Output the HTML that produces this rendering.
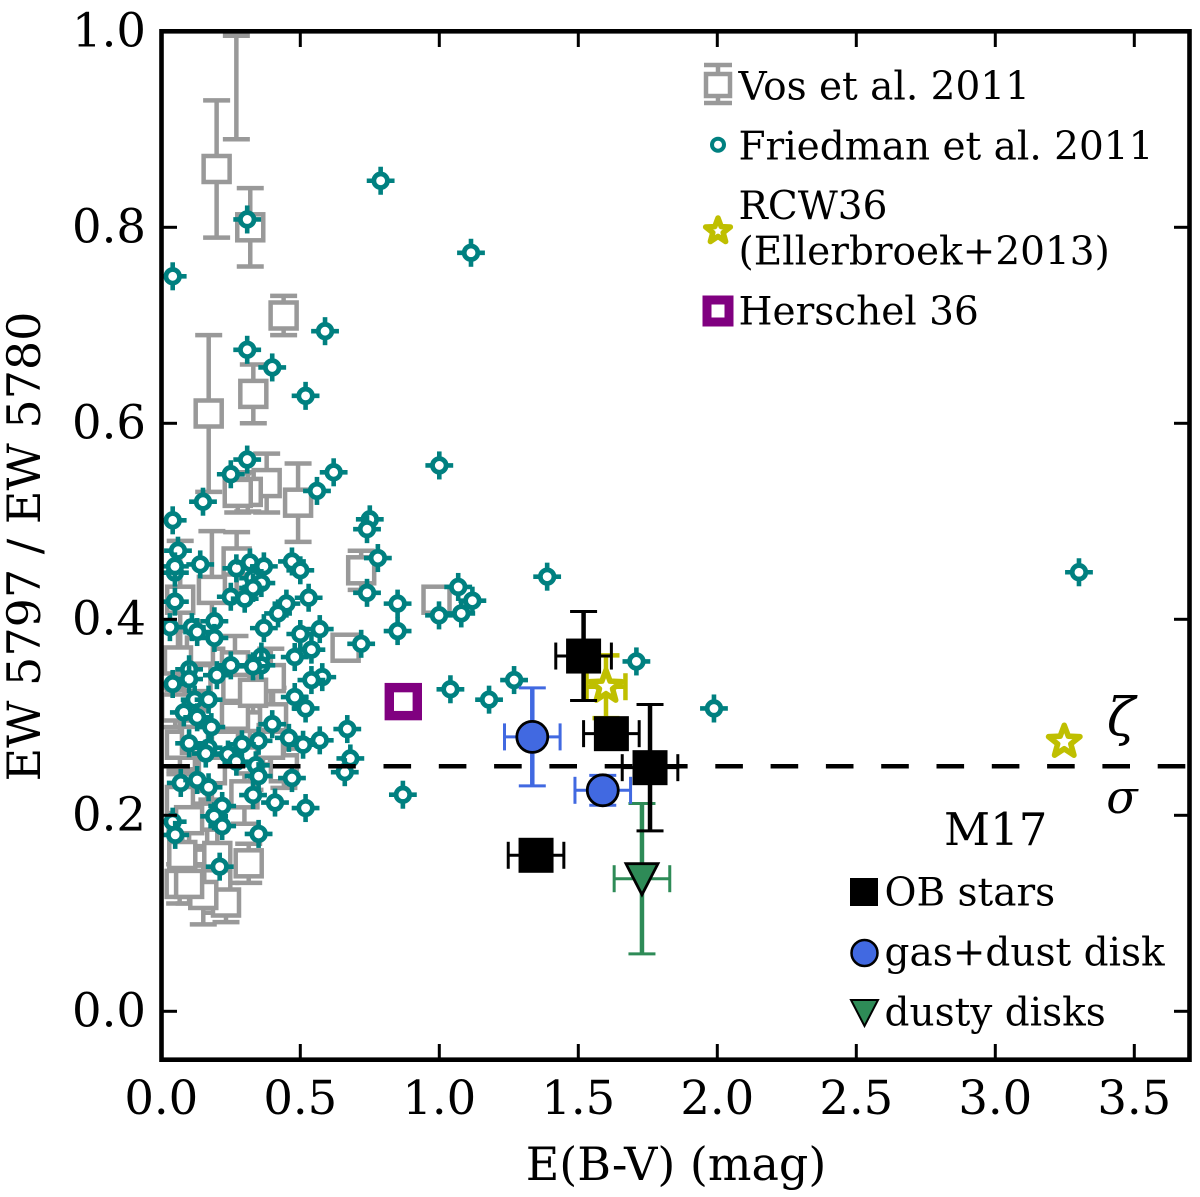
<!DOCTYPE html>
<html>
<head>
<meta charset="utf-8">
<style>
html,body{margin:0;padding:0;background:#fff;}
svg{display:block;}
text{font-family:"DejaVu Serif","Liberation Serif",serif;fill:#000;}
</style>
</head>
<body>
<svg id="chart" xmlns="http://www.w3.org/2000/svg" width="1200" height="1197" viewBox="0 0 1200 1197">
<defs><clipPath id="plot-clip"><rect x="161" y="31" width="1029" height="1029"/></clipPath></defs>
<g id="gVos" clip-path="url(#plot-clip)"></g>
<g id="gFried" clip-path="url(#plot-clip)"></g>
<g id="gRef"></g>
<g id="gHer"></g>
<g id="gRcw"></g>
<g id="gGreen"></g>
<g id="gOB"></g>
<g id="gBlue"></g>
<g id="gAxes"></g>

<text x="0" y="0" transform="translate(40,546.5) rotate(-90)" text-anchor="middle" font-size="46">EW 5797 / EW 5780</text>
<text x="676" y="1180" text-anchor="middle" font-size="46">E(B-V) (mag)</text>

<g>
  <g>
    <path d="M718 65V103M704 65H732M704 103H732" stroke="#999" stroke-width="4.5" fill="none"/>
    <rect x="706" y="74" width="24" height="22" fill="#fff" stroke="#999" stroke-width="4.5"/>
    <text x="738.5" y="99.5" font-size="39">Vos et al. 2011</text>
  </g>
  <g>
    <circle cx="718" cy="144.7" r="6" fill="#fff" stroke="#008080" stroke-width="4"/>
    <text x="738.5" y="159.5" font-size="39">Friedman et al. 2011</text>
  </g>
  <g>
    <polygon id="legendStar" fill="#fff" stroke="#bfbf00" stroke-width="5.5" stroke-linejoin="round"/>
    <text x="738.5" y="219" font-size="39">RCW36</text>
    <text x="738.5" y="264.5" font-size="39">(Ellerbroek+2013)</text>
  </g>
  <g>
    <rect x="707" y="300" width="22" height="22" fill="#fff" stroke="#800080" stroke-width="9"/>
    <text x="738.5" y="324.5" font-size="39">Herschel 36</text>
  </g>
</g>

<g>
  <text x="944" y="845" font-size="45">M17</text>
  <g>
    <rect x="850" y="878" width="28" height="28" fill="#000"/>
    <text x="884.5" y="905.5" font-size="39">OB stars</text>
  </g>
  <g>
    <circle cx="864.5" cy="953" r="13" fill="#4169e1" stroke="#000" stroke-width="2.5"/>
    <text x="884.5" y="965.5" font-size="39">gas+dust disk</text>
  </g>
  <g>
    <polygon points="851,1000 878,1000 864.5,1026" fill="#2e8b57" stroke="#000" stroke-width="2"/>
    <text x="884.5" y="1025.5" font-size="39">dusty disks</text>
  </g>
</g>

<text x="1121" y="735" text-anchor="middle" font-size="52" font-style="italic">ζ</text>
<text x="1122" y="813" text-anchor="middle" font-size="46" font-style="italic">σ</text>

<script>
var xTicks = ['0.0','0.5','1.0','1.5','2.0','2.5','3.0','3.5'];
var yTicks = ['0.0','0.2','0.4','0.6','0.8','1.0'];
var referenceRatio = 0.25;

var friedmanX = [.789,1.114,.309,.041,.589,.309,.399,.519,.309,.250,.620,.560,1.000,.150,.041,.750,.740,.060,.140,.270,.319,.369,.470,.500,.779,.049,.049,.330,.360,.330,.250,.300,.530,.049,.740,.850,1.068,1.119,.999,1.079,1.388,3.301,.450,.420,.191,.110,.129,.031,.191,.369,.500,.570,.850,.719,.540,.480,.360,.360,.330,.250,.200,.100,.100,.041,.579,.540,1.040,1.179,1.269,1.709,1.988,.480,.519,.120,.170,.081,.129,.180,.399,.669,.570,.459,.510,.350,.290,.240,.170,.100,.160,.680,.660,.340,.270,.350,.470,.869,.070,.129,.170,.330,.409,.519,.219,.190,.219,.041,.050,.350,.210];
var friedmanY = [.8475,.774,.808,.750,.694,.675,.657,.628,.563,.548,.550,.531,.557,.520,.501,.502,.492,.470,.456,.452,.458,.454,.459,.450,.4625,.4476,.454,.442,.437,.432,.423,.421,.422,.418,.427,.416,.433,.419,.404,.406,.4435,.448,.416,.406,.398,.392,.387,.392,.381,.391,.385,.390,.388,.375,.369,.3615,.362,.353,.352,.353,.343,.349,.339,.334,.341,.338,.3286,.318,.338,.357,.309,.3207,.309,.318,.318,.305,.300,.290,.293,.288,.2765,.279,.272,.276,.2725,.262,.269,.2735,.263,.258,.244,.251,.2547,.240,.238,.221,.233,.236,.2286,.2207,.213,.2074,.2095,.199,.189,.1935,.180,.181,.1476];
var friedmanXErr = 0.05;
var friedmanYErr = 0.0143;

var vosX = [.199,.320,.440,.1705,.331,.379,.311,.275,.492,.271,.182,.068,.719,.99,.663,.265,.394,.402,.441,.299,.165,.0755,.2014,.3144,.066,.2014,.2327,.151,.139,.06,.067,.067,.182,.265,.319,.121,.391,.229,.05,.10,.13,.27,.33,.10];
var vosY = [.8595,.800,.710,.61,.630,.539,.530,.529,.519,.459,.43,.42,.45,.42,.371,.3016,.34,.30,.248,.2214,.1986,.1595,.1585,.151,.130,.1306,.111,.1187,.368,.358,.272,.2156,.246,.353,.256,.277,.272,.272,.31,.195,.34,.33,.325,.13];
var vosYErr = [.07,.04,.02,.08,.03,.03,.02,.02,.04,.03,.06,.06,.02,.01,.01,.03,.03,.03,.02,.03,.03,.03,.03,.02,.02,.03,.02,.03,.03,.03,.03,.03,.03,.03,.03,.03,.02,.02,.02,.03,.03,.02,.02,.02];
var vosClippedX = [.27];
var vosClippedLow = [.8898];
var vosClippedHigh = [.9955];

var herschelX = [.8705];
var herschelY = [.316];

var rcwX = [1.5996,3.248];
var rcwY = [.3312,.275];
var rcwXErr = [.07,0];
var rcwYErr = [.032,0];

var obX = [1.519,1.619,1.758,1.348];
var obY = [.3625,.2833,.2486,.1592];
var obXErr = [.1,.1,.1,.1];
var obYErr = [.0454,.01,.0645,.01];

var gasX = [1.3345,1.588];
var gasY = [.280,.2255];
var gasXErr = [.1,.1];
var gasYErr = [.05,.0153];

var dustyX = [1.729];
var dustyY = [.1353];
var dustyXErr = [.1];
var dustyYErr = [.0767];

var NS = 'http://www.w3.org/2000/svg';
function sx(v){ return 161.3 + v * 278; }
function sy(v){ return 1011.3 - v * 980; }

function mk(parent, tag, attrs, name){
  var el = document.createElementNS(NS, tag);
  for (var k in attrs) { el.setAttribute(k, attrs[k]); }
  
  
  parent.appendChild(el);
  return el;
}
function seg(parent, x1, y1, x2, y2, color, w, name){
  return mk(parent, 'line', {x1:x1, y1:y1, x2:x2, y2:y2, stroke:color, 'stroke-width':w}, name);
}
function errY(parent, x, y, e, color, w, cap, capW){
  var px = sx(x), top = sy(y + e), bot = sy(y - e);
  seg(parent, px, top, px, bot, color, w, 'y-error-bar');
  seg(parent, px - cap/2, top, px + cap/2, top, color, capW, 'y-error-cap');
  seg(parent, px - cap/2, bot, px + cap/2, bot, color, capW, 'y-error-cap');
}
function errX(parent, x, y, e, color, w, cap, capW){
  var py = sy(y), l = sx(x - e), r = sx(x + e);
  seg(parent, l, py, r, py, color, w, 'x-error-bar');
  seg(parent, l, py - cap/2, l, py + cap/2, color, capW, 'x-error-cap');
  seg(parent, r, py - cap/2, r, py + cap/2, color, capW, 'x-error-cap');
}
function starPoints(cx, cy, R){
  var pts = [];
  for (var i = 0; i < 10; i++) {
    var r = i % 2 ? R * 0.42 : R;
    var a = -Math.PI / 2 + i * Math.PI / 5;
    pts.push((cx + r * Math.cos(a)).toFixed(2) + ',' + (cy + r * Math.sin(a)).toFixed(2));
  }
  return pts.join(' ');
}

document.getElementById('legendStar').setAttribute('points', starPoints(718, 231, 13));

var gVos = document.getElementById('gVos');
vosX.forEach(function(x, i){
  errY(gVos, x, vosY[i], vosYErr[i], '#999', 4.5, 27, 4.5);
});
vosX.forEach(function(x, i){
  mk(gVos, 'rect', {x:sx(x)-13, y:sy(vosY[i])-13, width:26, height:26, fill:'#fff', stroke:'#999', 'stroke-width':4.5}, 'vos-point');
});
vosClippedX.forEach(function(x, i){
  var mid = (vosClippedLow[i] + vosClippedHigh[i]) / 2;
  errY(gVos, x, mid, (vosClippedHigh[i] - vosClippedLow[i]) / 2, '#999', 4.5, 27, 4.5);
});

var gFried = document.getElementById('gFried');
friedmanX.forEach(function(x, i){
  var y = friedmanY[i];
  seg(gFried, sx(x - friedmanXErr), sy(y), sx(x + friedmanXErr), sy(y), '#008080', 4.6, 'friedman-x-error');
  seg(gFried, sx(x), sy(y + friedmanYErr), sx(x), sy(y - friedmanYErr), '#008080', 4.6, 'friedman-y-error');
  mk(gFried, 'circle', {cx:sx(x), cy:sy(y), r:6.8, fill:'#fff', stroke:'#008080', 'stroke-width':4.8}, 'friedman-point');
});

var gRef = document.getElementById('gRef');
mk(gRef, 'line', {x1:sx(0), y1:sy(referenceRatio), x2:sx(3.7), y2:sy(referenceRatio), stroke:'#000', 'stroke-width':4.5, 'stroke-dasharray':'27.6 27.7', 'stroke-dashoffset':'-1'}, 'reference-dashed-line');

var gHer = document.getElementById('gHer');
herschelX.forEach(function(x, i){
  mk(gHer, 'rect', {x:sx(x)-14, y:sy(herschelY[i])-14, width:28, height:28, fill:'#fff', stroke:'#800080', 'stroke-width':9.4}, 'herschel-point');
});

var gRcw = document.getElementById('gRcw');
rcwX.forEach(function(x, i){
  if (rcwXErr[i] > 0) {
    errX(gRcw, x, rcwY[i], rcwXErr[i], '#bfbf00', 4.5, 27, 4.5);
    errY(gRcw, x, rcwY[i], rcwYErr[i], '#bfbf00', 4.5, 27, 4.5);
  }
  mk(gRcw, 'polygon', {points:starPoints(sx(x), sy(rcwY[i]), 16.5), fill:'#fff', stroke:'#bfbf00', 'stroke-width':5.6, 'stroke-linejoin':'round'}, 'rcw36-point');
});

var gGreen = document.getElementById('gGreen');
dustyX.forEach(function(x, i){
  errX(gGreen, x, dustyY[i], dustyXErr[i], '#2e8b57', 3, 27, 3);
  errY(gGreen, x, dustyY[i], dustyYErr[i], '#2e8b57', 4.5, 27, 3);
  var px = sx(x), py = sy(dustyY[i]);
  mk(gGreen, 'polygon', {points:(px-16)+','+(py-15)+' '+(px+16)+','+(py-15)+' '+px+','+(py+16), fill:'#2e8b57', stroke:'#000', 'stroke-width':2.8}, 'dusty-disk-point');
});

var gOB = document.getElementById('gOB');
obX.forEach(function(x, i){
  errX(gOB, x, obY[i], obXErr[i], '#000', 3, 27, 3);
  errY(gOB, x, obY[i], obYErr[i], '#000', 4.5, 27, 3);
});
obX.forEach(function(x, i){
  mk(gOB, 'rect', {x:sx(x)-17.5, y:sy(obY[i])-17.5, width:35, height:35, fill:'#000'}, 'ob-star-point');
});

var gBlue = document.getElementById('gBlue');
gasX.forEach(function(x, i){
  errX(gBlue, x, gasY[i], gasXErr[i], '#4169e1', 3, 27, 3);
  errY(gBlue, x, gasY[i], gasYErr[i], '#4169e1', 4.5, 27, 3);
  mk(gBlue, 'circle', {cx:sx(x), cy:sy(gasY[i]), r:15.5, fill:'#4169e1', stroke:'#000', 'stroke-width':2.8}, 'gas-dust-disk-point');
});

var gAxes = document.getElementById('gAxes');
xTicks.forEach(function(t){
  var v = parseFloat(t), px = sx(v);
  seg(gAxes, px, 1060, px, 1044, '#000', 3, 'x-tick-bottom');
  seg(gAxes, px, 31, px, 47, '#000', 3, 'x-tick-top');
  var lab = mk(gAxes, 'text', {x:px, y:1114, 'text-anchor':'middle', 'font-size':46.5}, 'x-tick-label');
  lab.textContent = t;
});
yTicks.forEach(function(t){
  var v = parseFloat(t), py = sy(v);
  seg(gAxes, 161, py, 177, py, '#000', 3, 'y-tick-left');
  seg(gAxes, 1190, py, 1174, py, '#000', 3, 'y-tick-right');
  var lab = mk(gAxes, 'text', {x:146, y:py + 15, 'text-anchor':'end', 'font-size':46.5}, 'y-tick-label');
  lab.textContent = t;
});
mk(gAxes, 'rect', {x:161.5, y:31.3, width:1028, height:1028.4, fill:'none', stroke:'#000', 'stroke-width':4.6}, 'plot-frame');
</script>
</svg>
</body>
</html>
